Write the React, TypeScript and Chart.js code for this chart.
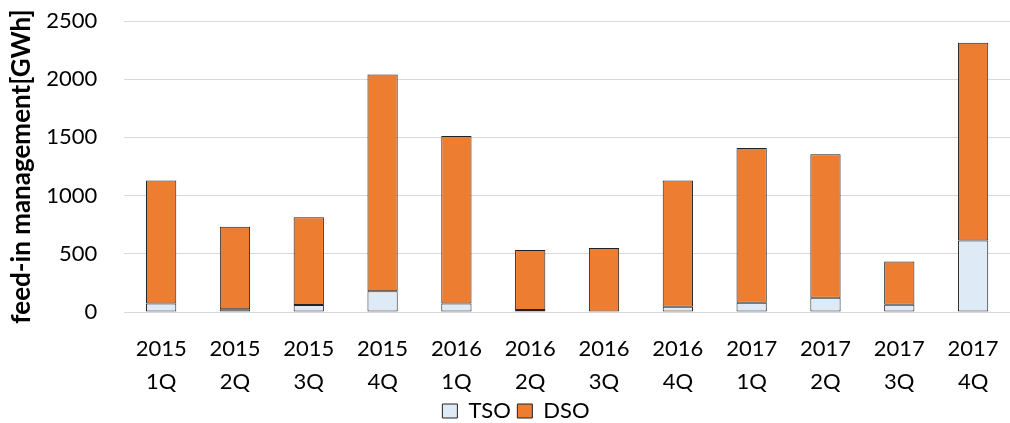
import React, { useEffect, useRef } from "react";
import { Chart, registerables } from "chart.js";

Chart.register(...registerables);

const categories: string[][] = [
  ["2015", "1Q"], ["2015", "2Q"], ["2015", "3Q"], ["2015", "4Q"],
  ["2016", "1Q"], ["2016", "2Q"], ["2016", "3Q"], ["2016", "4Q"],
  ["2017", "1Q"], ["2017", "2Q"], ["2017", "3Q"], ["2017", "4Q"],
];
const tsoValues = [72, 23, 60, 178, 72, 17, 5, 46, 80, 123, 63, 615];
const dsoValues = [1058, 710, 755, 1862, 1439, 515, 544, 1084, 1328, 1233, 371, 1698];
const yTicks = [0, 500, 1000, 1500, 2000, 2500];

const FONT = "Lato, 'Open Sans', sans-serif";

export default function App() {
  const ref = useRef<HTMLCanvasElement | null>(null);
  useEffect(() => {
    document.body.style.margin = "0";
    if (!ref.current) return;
    const chart = new Chart(ref.current, {
      type: "bar",
      data: {
        labels: categories,
        datasets: [
          {
            label: "TSO",
            data: tsoValues,
            backgroundColor: "#DEEAF6",
            borderColor: "#222222",
            borderWidth: 1,
            borderSkipped: false,
            barPercentage: 0.41,
            categoryPercentage: 1,
          },
          {
            label: "DSO",
            data: dsoValues,
            backgroundColor: "#ED7D31",
            borderColor: "#222222",
            borderWidth: 1,
            borderSkipped: false,
            barPercentage: 0.41,
            categoryPercentage: 1,
          },
        ],
      },
      options: {
        animation: false,
        responsive: true,
        maintainAspectRatio: false,
        layout: { padding: { top: 21, right: -16, left: 6, bottom: -9 } },
        plugins: {
          tooltip: { enabled: false },
          legend: {
            position: "bottom",
            labels: {
              boxWidth: 15,
              boxHeight: 14,
              padding: 6.5,
              color: "#000",
              font: { family: FONT, size: 22 },
            },
          },
        },
        scales: {
          x: {
            stacked: true,
            grid: {
              display: true,
              drawOnChartArea: false,
              drawTicks: true,
              tickLength: 17.5,
              tickColor: "rgba(0,0,0,0)",
            },
            border: { color: "#d9d9d9", width: 1 },
            ticks: {
              color: "#000",
              font: { family: FONT, size: 22, lineHeight: 1.5 },
              padding: 3,
              maxRotation: 0,
              autoSkip: false,
            },
            afterFit: (s: any) => {
              s.height -= 8;
            },
          },
          y: {
            stacked: true,
            min: 0,
            max: 2500,
            afterBuildTicks: (axis: any) => {
              axis.ticks = yTicks.map((v) => ({ value: v }));
            },
            grid: {
              color: "#d9d9d9",
              drawTicks: true,
              tickLength: 24,
              tickColor: "rgba(0,0,0,0)",
            },
            border: { display: false },
            ticks: {
              color: "#000",
              font: { family: FONT, size: 22 },
              padding: 3,
              callback: (v: any) => String(v),
            },
            title: {
              display: true,
              text: "feed-in management[GWh]",
              color: "#000",
              font: { family: FONT, size: 26, weight: "bold" },
              padding: { top: 0, bottom: 6 },
            },
          },
        },
      },
    });
    return () => chart.destroy();
  }, []);
  return (
    <div style={{ position: "fixed", left: 0, top: 0, width: 1010, height: 423 }}>
      <canvas ref={ref} />
    </div>
  );
}
